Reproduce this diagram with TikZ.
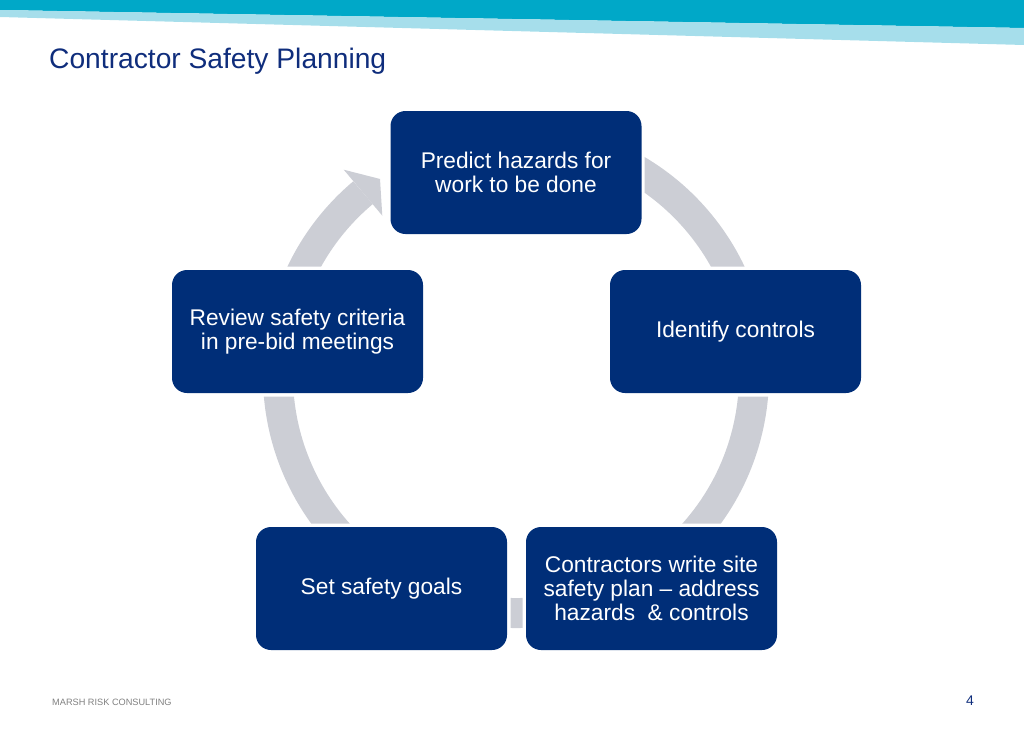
\documentclass[tikz,border=0pt]{standalone}
\usepackage{fontspec}
\setmainfont{Liberation Sans}
\usetikzlibrary{calc}
\definecolor{navy}{RGB}{0,46,120}
\definecolor{ringgray}{RGB}{204,206,213}
\definecolor{bandteal}{RGB}{0,168,200}
\definecolor{bandlight}{RGB}{166,222,235}
\definecolor{titleblue}{RGB}{15,45,124}
\definecolor{footgray}{RGB}{128,128,128}
\begin{document}
\begin{tikzpicture}[x=1pt,y=-1pt,
  box/.style={fill=navy, rounded corners=15pt, minimum width=251pt, minimum height=123pt,
    inner sep=0pt, text=white, align=center, font=\fontsize{22.7}{24}\selectfont},
  ring/.style={ringgray}]
\useasboundingbox (0,0) rectangle (1024,731);
% banner
\fill[bandteal] (0,0) -- (1024,0) -- (1024,28) -- (0,10) -- cycle;
\fill[bandlight] (0,10) -- (1024,28) -- (1024,45) -- (0,17) -- cycle;
% title
\node[anchor=base west, inner sep=0pt, text=titleblue, font=\fontsize{28.2}{30}\selectfont] (title) at (49,68) {Contractor Safety Planning};
% ring with arrow, clipped around boxes
\coordinate (c) at (516,375);
\begin{scope}[even odd rule]
  \clip (0,0) rectangle (1024,731)
    (387.5,107.5) rectangle (644.5,237.5)
    (606.5,266.5) rectangle (864.5,396.5)
    (522.5,523.5) rectangle (780.5,653.5)
    (252.5,523.5) rectangle (510.5,653.5)
    (168.5,266.5) rectangle (426.5,396.5);
  \draw[ring, line width=30pt] (c) ++(-80:238) arc[start angle=-80, end angle=230, radius=238];
  \fill[ring] ($(c)+(-130:268)$) -- ($(c)+(-124.75:238.6)$) -- ($(c)+(-130:208)$) -- cycle;
\end{scope}
% boxes
\node[box] (top) at (516,172.5) {Predict hazards for\\work to be done};
\node[box] (right) at (735.5,331.5) {Identify controls};
\node[box] (br) at (651.5,588.5) {Contractors write site\\safety plan -- address\\hazards\ \ \& controls};
\node[box] (bl) at (381.5,588.5) {Set safety goals};
\node[box] (left) at (297.5,331.5) {Review safety criteria\\in pre-bid meetings};
% footer
\node[anchor=base west, inner sep=0pt, text=footgray, font=\fontsize{9.2}{10}\selectfont] (foot) at (52,705) {MARSH RISK CONSULTING};
\node[anchor=base, inner sep=0pt, text=titleblue, font=\fontsize{14}{16}\selectfont] (page) at (970,705) {4};
\end{tikzpicture}
\end{document}
